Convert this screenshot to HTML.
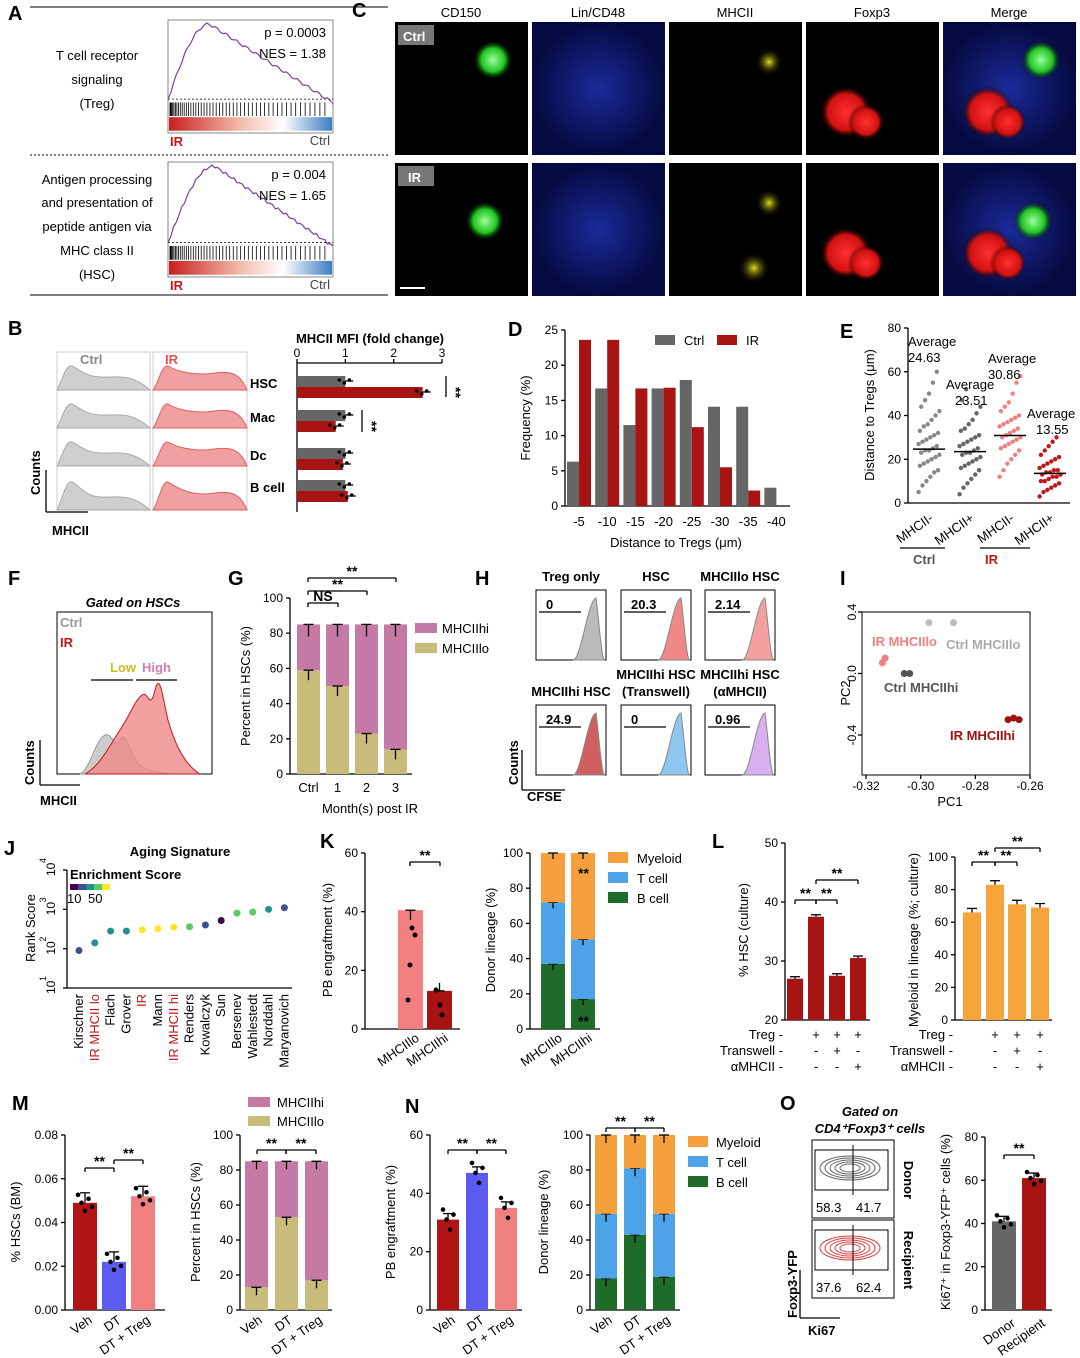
<!DOCTYPE html>
<html><head><meta charset="utf-8"><style>
html,body{margin:0;padding:0;background:#fff;}
svg{display:block;font-family:"Liberation Sans",Arial,sans-serif;}
</style></head><body>
<svg id="fig" width="1080" height="1358" viewBox="0 0 1080 1358" xmlns="http://www.w3.org/2000/svg">
<defs>
<radialGradient id="gGreen"><stop offset="0" stop-color="#9dff9d"/><stop offset="0.6" stop-color="#1fc21f"/><stop offset="1" stop-color="#000" stop-opacity="0"/></radialGradient>
<radialGradient id="gRed"><stop offset="0" stop-color="#ff3030"/><stop offset="0.7" stop-color="#d01010"/><stop offset="1" stop-color="#000" stop-opacity="0"/></radialGradient>
<radialGradient id="gYel"><stop offset="0" stop-color="#e8e020"/><stop offset="1" stop-color="#000" stop-opacity="0"/></radialGradient>
<radialGradient id="gBlue"><stop offset="0" stop-color="#1a2a9a"/><stop offset="1" stop-color="#050a40"/></radialGradient>
<linearGradient id="gBar" x1="0" x2="1"><stop offset="0" stop-color="#c62020"/><stop offset="0.45" stop-color="#f5c0b0"/><stop offset="0.7" stop-color="#fff"/><stop offset="1" stop-color="#3a7dc0"/></linearGradient>
</defs>
<g id="root"></g>
</svg>
<script>
// ---------- data ----------
const bCats=['HSC','Mac','Dc','B cell'];
const bCtrl=[1.0,1.0,1.0,1.0];
const bIR=[2.6,0.8,0.95,1.05];
const dCats=['-5','-10','-15','-20','-25','-30','-35','-40'];
const dCtrl=[6.3,16.7,11.5,16.7,17.9,14.1,14.1,2.6];
const dIR=[23.6,23.6,16.7,16.8,11.2,5.5,2.2,0];
const eGroups=['MHCII-','MHCII+','MHCII-','MHCII+'];
const eAvg=[24.63,23.51,30.86,13.55];
const eVals=[
[5,8,10,12,14,15,17,18,19,20,21,22,23,24,24,25,26,27,28,29,30,31,32,33,35,36,38,40,42,44,47,50,55,60],
[4,7,9,11,13,15,16,17,18,19,20,21,22,23,23,24,25,26,27,28,29,30,31,33,34,36,38,41,44,47,52],
[12,15,18,20,22,24,25,26,27,28,29,30,30,31,32,33,34,35,36,37,38,39,40,42,44,46,50,55,58],
[3,5,6,7,8,9,10,10,11,12,12,13,13,14,14,15,15,16,17,18,19,20,21,22,24,26,28,30]];
const gCats=['Ctrl','1','2','3'];
const gLo=[59,50,23,14];
const gTotal=[85,85,85,85];
const jNames=['Kirschner','IR MHCII lo','Flach','Grover','IR','Mann','IR MHCII hi','Renders','Kowalczyk','Sun','Bersenev','Wahlestedt','Norddahl','Maryanovich'];
const jRank=[90,140,280,280,300,320,350,360,400,520,800,850,1000,1100];
const jEnrich=[18,20,24,26,42,45,40,36,12,8,30,30,28,14];
const kCats=['MHCIIlo','MHCIIhi'];
const kPB=[40.5,13];
const kB=[37,17];const kT=[35,34];const kM=[28,49];
const lHSC=[27,37.5,27.5,30.5];
const lMye=[66,83,71,69];
const mCats=['Veh','DT','DT + Treg'];
const mHSC=[0.049,0.022,0.052];
const mLo=[13,53,17];const mTotal=[85,85,85];
const nPB=[31,47,35];
const nB=[18,43,19];const nT=[37,38,36];const nM=[45,19,45];
const oCats=['Donor','Recipient'];
const oKi=[41,61];
const iPC1=[-0.314,-0.313,-0.297,-0.288,-0.306,-0.304,-0.268,-0.266,-0.264];
const iPC2=[0.07,0.10,0.33,0.33,0.0,0.0,-0.30,-0.29,-0.30];
const iCol=['#f08080','#f08080','#bbb','#bbb','#555','#555','#a01010','#a01010','#a01010'];

// ---------- helpers ----------
const NS='http://www.w3.org/2000/svg';
const root=document.getElementById('root');
function mk(tag,attrs){const e=document.createElementNS(NS,tag);for(const k in attrs)e.setAttribute(k,attrs[k]);root.appendChild(e);return e;}
function T(x,y,s,attrs,name){const e=mk('text',Object.assign({x:x,y:y,'font-size':13},attrs||{}));e.textContent=s;


return e;}
function R(x,y,w,h,fill,name,extra){const e=mk('rect',Object.assign({x:x,y:y,width:Math.max(0,w),height:Math.max(0,h),fill:fill},extra||{}));


return e;}
function L(x1,y1,x2,y2,name,extra){const e=mk('line',Object.assign({x1:x1,y1:y1,x2:x2,y2:y2,stroke:'#000','stroke-width':1.3},extra||{}));


return e;}
function C(cx,cy,r,fill,name,extra){const e=mk('circle',Object.assign({cx:cx,cy:cy,r:r,fill:fill},extra||{}));


return e;}
function P(d,name,extra){const e=mk('path',Object.assign({d:d},extra||{}));


return e;}
const lin=(d0,d1,r0,r1)=>v=>r0+(v-d0)/(d1-d0)*(r1-r0);
function yAxis(x,sc,ticks,fmt,name){L(x,sc(ticks[0]),x,sc(ticks[ticks.length-1]),name+'-line');
ticks.forEach(t=>{L(x-4,sc(t),x,sc(t),name+'-tick');T(x-7,sc(t)+4,fmt?fmt(t):String(t),{'text-anchor':'end','font-size':12},name+'-label');});}
function ytitle(x,y,s,name){T(x,y,s,{'text-anchor':'middle',transform:'rotate(-90 '+x+' '+y+')'},name);}
function errbar(x,y1,y2,name){L(x,y1,x,y2,name);L(x-5,y1,x+5,y1,name);}
function sig(x1,x2,y,s,name){L(x1,y,x2,y,name+'-line');L(x1,y,x1,y+4,name+'-line');L(x2,y,x2,y+4,name+'-line');T((x1+x2)/2,y-2,s,{'text-anchor':'middle','font-size':14,'font-weight':'bold'},name);}
function rotLabel(x,y,s,name,col){T(x,y,s,{'text-anchor':'end',transform:'rotate(-35 '+x+' '+y+')',fill:col||'#000'},name);}

// ---------- panel letters ----------
[['A',8,20],['C',352,17],['B',8,335],['D',508,336],['E',840,338],['F',8,585],['G',228,585],['H',475,585],['I',840,585],['J',4,855],['K',320,848],['L',712,848],['M',12,1110],['N',405,1113],['O',780,1110]].forEach(p=>{T(p[1],p[2],p[0],{'font-size':20,'font-weight':'bold'},'panel-label-'+p[0]);});

// ---------- Panel A ----------
L(30,7,388,7,'a-top-rule',{'stroke-width':1});
L(30,155,388,155,'a-mid-rule',{'stroke-dasharray':'2,2','stroke-width':1});
L(30,295,388,295,'a-bottom-rule',{'stroke-width':1});
[['T cell receptor',60],['signaling',84],['(Treg)',108]].forEach(a=>T(97,a[1],a[0],{'text-anchor':'middle'},'a-pathway-1'));
[['Antigen processing',184],['and presentation of',207],['peptide antigen via',231],['MHC class II',255],['(HSC)',279]].forEach(a=>T(97,a[1],a[0],{'text-anchor':'middle'},'a-pathway-2'));
function gsea(y0,h,pk,pv,nes,seed){
 R(168,y0,165,h,'none','gsea-frame',{stroke:'#888','stroke-width':1});
 const top=y0+4,base=y0+h*0.7;
 L(168,base,333,base,'gsea-zero',{'stroke-dasharray':'2,2','stroke-width':0.8});
 let d='M168 '+base;
 for(let i=0;i<=60;i++){const x=168+i*2.75;const t=i/60;let v=t<pk?Math.sin(t/pk*Math.PI/2):1-(t-pk)/(1-pk)*1.05;v=Math.max(-0.1,v);d+=' L'+x.toFixed(1)+' '+(base-(base-top)*v+Math.sin(i*seed)*1.5).toFixed(1);}
 P(d,'gsea-curve',{fill:'none',stroke:'#7a3fa0','stroke-width':1.2});
 R(169,y0+h*0.73,163,h*0.12,'#fff','gsea-hits');
 for(let i=0;i<50;i++){const x=170+Math.pow(i/50,1.6)*160;L(x,y0+h*0.73,x,y0+h*0.85,'gsea-hit',{'stroke-width':0.8});}
 R(169,y0+h*0.86,163,h*0.12,'url(#gBar)','gsea-rank-bar');
 T(170,y0+h+13,'IR',{fill:'#c01818','font-weight':'bold'},'gsea-ir');
 T(330,y0+h+12,'Ctrl',{'text-anchor':'end',fill:'#444'},'gsea-ctrl');
 T(326,y0+17,'p = '+pv,{'text-anchor':'end'},'gsea-p');
 T(326,y0+38,'NES = '+nes,{'text-anchor':'end'},'gsea-nes');
}
gsea(20,113,0.25,'0.0003','1.38',1.7);
gsea(162,115,0.28,'0.004','1.65',2.3);

// ---------- Panel C ----------
['CD150','Lin/CD48','MHCII','Foxp3','Merge'].forEach((s,i)=>T(461+i*137,17,s,{'text-anchor':'middle'},'c-channel-title'));
[22,163].forEach((y,r)=>{for(let i=0;i<5;i++){const x=395+i*137;
 R(x,y,133,133,(i==1||i==4)?'url(#gBlue)':'#000','c-image-'+r+'-'+i);
 const gx=x+(r==0?98:90),gy=y+(r==0?38:58);
 if(i==0||i==4)C(gx,gy,20,'url(#gGreen)','c-cd150-blob');
 if(i==2){C(x+100,y+40,14,'url(#gYel)','c-mhcii-blob');if(r==1)C(x+85,y+105,16,'url(#gYel)','c-mhcii-blob');}
 if(i==3||i==4){C(x+40+(i==4?5:0),y+90,26,'url(#gRed)','c-foxp3-blob');C(x+60+(i==4?5:0),y+100,18,'url(#gRed)','c-foxp3-blob');}
}});
R(398,25,36,20,'#777','c-tag');R(398,166,36,20,'#777','c-tag');
T(403,41,'Ctrl',{fill:'#fff','font-weight':'bold'},'c-tag-ctrl');T(408,182,'IR',{fill:'#fff','font-weight':'bold'},'c-tag-ir');
R(400,287,25,2,'#fff','c-scale-bar');

// ---------- Panel B ----------
T(80,364,'Ctrl',{fill:'#888','font-weight':'bold'},'b-ctrl');T(165,364,'IR',{fill:'#e05050','font-weight':'bold'},'b-ir');
R(57,352,93,158,'none','b-box-ctrl',{stroke:'#ccc'});R(153,352,94,158,'none','b-box-ir',{stroke:'#ccc'});
[352,390,428,468].forEach((y,r)=>{const h=r==3?42:38;
 P('M57 '+(y+h)+' C62 '+(y+h-10)+' 66 '+(y+12)+' 72 '+(y+14)+' C80 '+(y+18)+' 85 '+(y+h-14)+' 100 '+(y+h-13)+' C115 '+(y+h-12)+' 130 '+(y+h-18)+' 150 '+(y+h)+'Z','b-hist-ctrl',{fill:'#cfcfcf',stroke:'#aaa'});
 P('M153 '+(y+h)+' C158 '+(y+h-6)+' 162 '+(y+12)+' 168 '+(y+14)+' C175 '+(y+18)+' 185 '+(y+h-16)+' 205 '+(y+h-16)+' C225 '+(y+h-18)+' 238 '+(y+h-22)+' 247 '+(y+h)+'Z','b-hist-ir',{fill:'#f0a0a0',stroke:'#e06060'});
});
L(46,512,46,470,'b-y-arrow');L(46,512,88,512,'b-x-arrow');
T(40,495,'Counts',{transform:'rotate(-90 40 495)','font-weight':'bold'},'b-counts');T(52,535,'MHCII',{'font-weight':'bold'},'b-mhcii');
const bx=lin(0,3,297,442);
T(370,343,'MHCII MFI (fold change)',{'text-anchor':'middle','font-weight':'bold'},'b-axis-title');
L(297,363,442,363,'b-x-axis');[0,1,2,3].forEach(t=>{L(bx(t),363,bx(t),359,'b-x-tick');T(bx(t),357,String(t),{'text-anchor':'middle','font-size':12},'b-x-label');});
L(297,363,297,512,'b-y-axis');
const bRowY=[376,410,448,480];
bCats.forEach((c,i)=>{const y=bRowY[i];
 T(250,y+12,c,{'font-weight':'bold'},'b-cat-label');
 R(297,y,bx(bCtrl[i])-297,11,'#666','b-bar-ctrl');
 R(297,y+11,bx(bIR[i])-297,11,'#a81414','b-bar-ir');
 L(bx(bCtrl[i]),y+5,bx(bCtrl[i])+8,y+5,'b-err');L(bx(bIR[i]),y+16,bx(bIR[i])+8,y+16,'b-err');
 for(let k=0;k<3;k++){C(bx(bCtrl[i])-6+k*5,y+4+(k%2)*3,1.8,'#000','b-dot');C(bx(bIR[i])-6+k*5,y+15+(k%2)*3,1.8,'#000','b-dot');}
});
L(446,376,446,397,'b-sig1');T(451,387,'**',{transform:'rotate(90 451 387)','font-weight':'bold','font-size':14},'b-sig1-text');
L(362,410,362,432,'b-sig2');T(367,421,'**',{transform:'rotate(90 367 421)','font-weight':'bold','font-size':14},'b-sig2-text');

// ---------- Panel D ----------
const dy=lin(0,25,506,330);
yAxis(565,dy,[0,5,10,15,20,25],null,'d-y');
L(565,506,790,506,'d-x-axis');
ytitle(530,418,'Frequency (%)','d-y-title');
dCats.forEach((c,i)=>{const cx=579+i*28.2;
 R(cx-12,dy(dCtrl[i]),12,506-dy(dCtrl[i]),'#666','d-bar-ctrl');
 R(cx,dy(dIR[i]),12,506-dy(dIR[i]),'#a81414','d-bar-ir');
 T(cx,526,c,{'text-anchor':'middle'},'d-x-label');});
T(676,547,'Distance to Tregs (μm)',{'text-anchor':'middle'},'d-x-title');
R(655,335,20,10,'#666','d-legend-ctrl');T(684,345,'Ctrl',{},'d-legend-ctrl-text');
R(717,335,20,10,'#a81414','d-legend-ir');T(746,345,'IR',{},'d-legend-ir-text');

// ---------- Panel E ----------
const ey=lin(0,80,503,328);
yAxis(908,ey,[0,20,40,60,80],null,'e-y');
L(908,503,1070,503,'e-x-axis');
ytitle(874,415,'Distance to Tregs (μm)','e-y-title');
const eCol=['#888','#666','#f08080','#c01818'];
const eX=[929,970,1010,1050];
eVals.forEach((g,gi)=>{g.forEach((v,k)=>{const jit=((k*37)%17-8)*1.3;
 C(eX[gi]+jit,ey(v),2.2,eCol[gi],'e-point');});
 L(eX[gi]-16,ey(eAvg[gi]),eX[gi]+16,ey(eAvg[gi]),'e-avg-line',{'stroke-width':1.5});
});
[[908,346,'Average'],[908,362,'24.63'],[988,363,'Average'],[988,379,'30.86'],[946,389,'Average'],[955,405,'23.51'],[1027,418,'Average'],[1036,434,'13.55']].forEach(a=>T(a[0],a[1],a[2],{},'e-avg-label'));
eGroups.forEach((g,i)=>rotLabel(eX[i]+5,520,g,'e-x-label'));
L(900,548,945,548,'e-ctrl-line');L(980,548,1030,548,'e-ir-line');
T(913,564,'Ctrl',{'font-weight':'bold',fill:'#555'},'e-ctrl');T(985,564,'IR',{'font-weight':'bold',fill:'#c01818'},'e-ir');

// ---------- Panel F ----------
T(133,607,'Gated on HSCs',{'text-anchor':'middle','font-weight':'bold','font-style':'italic'},'f-title');
R(57,612,155,162,'none','f-frame',{stroke:'#000'});
T(60,627,'Ctrl',{fill:'#999','font-weight':'bold'},'f-ctrl');T(60,647,'IR',{fill:'#c01818','font-weight':'bold'},'f-ir');
P('M80 774 C90 770 95 740 105 735 C112 732 115 750 120 740 C126 728 132 760 140 765 C150 772 160 772 170 774Z','f-hist-ctrl',{fill:'#ccc',stroke:'#999'});
P('M85 774 C100 766 110 745 120 730 C130 715 135 700 142 695 C148 690 150 712 155 690 C160 670 163 700 168 720 C175 745 185 765 200 774Z','f-hist-ir',{fill:'#f08888','fill-opacity':0.8,stroke:'#c01818'});
L(91,680,133,680,'f-gate-low');L(136,680,177,680,'f-gate-high');
T(110,672,'Low',{fill:'#c8c020','font-weight':'bold'},'f-low');T(142,672,'High',{fill:'#d080b0','font-weight':'bold'},'f-high');
L(40,785,40,740,'f-y-arrow');L(40,785,80,785,'f-x-arrow');
T(34,785,'Counts',{transform:'rotate(-90 34 785)','font-weight':'bold'},'f-counts');T(40,805,'MHCII',{'font-weight':'bold'},'f-mhcii');

// ---------- Panel G ----------
const gy=lin(0,100,774,598);
yAxis(290,gy,[0,20,40,60,80,100],null,'g-y');L(290,774,412,774,'g-x-axis');
ytitle(250,686,'Percent in HSCs (%)','g-y-title');
gCats.forEach((c,i)=>{const x=297+i*29;
 R(x,gy(gLo[i]),23,774-gy(gLo[i]),'#c9bb7a','g-bar-lo');
 R(x,gy(gTotal[i]),23,gy(gLo[i])-gy(gTotal[i]),'#c57aa5','g-bar-hi');
 errbar(x+11.5,gy(gTotal[i]),gy(gTotal[i])+12,'g-err');errbar(x+11.5,gy(gLo[i]),gy(gLo[i])+10,'g-err');
 T(x+11.5,792,c,{'text-anchor':'middle'},'g-x-label');});
T(370,813,'Month(s) post IR',{'text-anchor':'middle'},'g-x-title');
sig(308,338,603,'NS','g-sig-ns');sig(308,367,591,'**','g-sig-2');sig(308,396,578,'**','g-sig-3');
R(415,623,22,10,'#c57aa5','g-legend-hi');T(442,633,'MHCIIhi',{},'g-legend-hi-text');
R(415,643,22,10,'#c9bb7a','g-legend-lo');T(442,653,'MHCIIlo',{},'g-legend-lo-text');

// ---------- Panel H ----------
const hT=[['Treg only','0',536,590,'#bbb'],['HSC','20.3',621,590,'#f08888'],['MHCIIlo HSC','2.14',705,590,'#f5a0a0'],['MHCIIhi HSC','24.9',536,705,'#d06060'],['MHCIIhi HSC\n(Transwell)','0',621,705,'#8ec8f0'],['MHCIIhi HSC\n(αMHCII)','0.96',705,705,'#d8b0f0']];
hT.forEach(h=>{const x=h[2],y=h[3];const ls=h[0].split('\n');
 ls.forEach((s,k)=>T(x+35,y-9-(ls.length-1-k)*17,s,{'text-anchor':'middle','font-weight':'bold'},'h-title'));
 R(x,y,70,70,'none','h-frame',{stroke:'#000'});
 const p=x+60;P('M'+(p-22)+' '+(y+70)+' C'+(p-14)+' '+(y+64)+' '+(p-8)+' '+(y+10)+' '+p+' '+(y+8)+' C'+(p+3)+' '+(y+30)+' '+(p+5)+' '+(y+64)+' '+(p+8)+' '+(y+70)+'Z','h-hist',{fill:h[4],stroke:'#888'});
 L(x+3,y+22,x+45,y+22,'h-gate');T(x+10,y+19,h[1],{'font-weight':'bold'},'h-value');});
L(522,790,522,750,'h-y-arrow');L(522,790,565,790,'h-x-arrow');
T(518,785,'Counts',{transform:'rotate(-90 518 785)','font-weight':'bold'},'h-counts');T(527,801,'CFSE',{'font-weight':'bold'},'h-cfse');

// ---------- Panel I ----------
const ix=lin(-0.32,-0.26,866,1030);const iy=lin(-0.4,0.4,735,612);
R(862,612,168,163,'none','i-frame',{stroke:'#000'});
[-0.32,-0.30,-0.28,-0.26].forEach(t=>{L(ix(t),775,ix(t),779,'i-x-tick');T(ix(t),790,t.toFixed(2),{'text-anchor':'middle','font-size':12},'i-x-label');});
[0.4,0.0,-0.4].forEach(t=>{L(858,iy(t),862,iy(t),'i-y-tick');T(856,iy(t),t.toFixed(1),{'text-anchor':'middle','font-size':12,transform:'rotate(-90 856 '+iy(t)+')'},'i-y-label');});
T(950,806,'PC1',{'text-anchor':'middle'},'i-x-title');ytitle(850,693,'PC2','i-y-title');
iPC1.forEach((v,i)=>C(ix(v),iy(iPC2[i]),3.5,iCol[i],'i-point'));
T(872,646,'IR MHCIIlo',{fill:'#f08080','font-weight':'bold'},'i-label-ir-lo');T(946,649,'Ctrl MHCIIlo',{fill:'#aaa','font-weight':'bold'},'i-label-ctrl-lo');
T(884,692,'Ctrl MHCIIhi',{fill:'#555','font-weight':'bold'},'i-label-ctrl-hi');T(950,740,'IR MHCIIhi',{fill:'#a01010','font-weight':'bold'},'i-label-ir-hi');

// ---------- Panel J ----------
const jy=v=>lin(1,4,988,870)(Math.log10(v));
T(180,856,'Aging Signature',{'text-anchor':'middle','font-weight':'bold'},'j-title');
L(67,870,67,988,'j-y-axis');L(67,988,292,988,'j-x-axis');
[1,2,3,4].forEach(p=>{const yy=jy(Math.pow(10,p));L(63,yy,67,yy,'j-tick');T(55,yy+6,'10',{'text-anchor':'start','font-size':12,transform:'rotate(-90 55 '+(yy+6)+')'},'j-y-label');
 T(46,yy-7,String(p),{'font-size':9,transform:'rotate(-90 46 '+(yy-7)+')'},'j-y-exp');});
ytitle(35,928,'Rank Score','j-y-title');
T(70,879,'Enrichment Score',{'font-weight':'bold'},'j-legend-title');
const vir=['#440154','#3b528b','#21918c','#5ec962','#fde725'];
vir.forEach((c,i)=>R(70+i*8,884,8,6,c,'j-colorbar'));
T(67,903,'10',{},'j-cb-10');T(88,903,'50',{},'j-cb-50');
const jCol=v=>vir[Math.min(4,Math.floor(v/10))];
jRank.forEach((v,i)=>{const x=79+i*15.8;C(x,jy(v),3.5,jCol(jEnrich[i]),'j-point');
 const red=jNames[i].indexOf('IR')==0;
 T(x+4,994,jNames[i],{'text-anchor':'end',transform:'rotate(-90 '+(x+4)+' 994)',fill:red?'#c01818':'#000'},'j-x-label');});

// ---------- Panel K ----------
const ky=lin(0,60,1029,853);
yAxis(365,ky,[0,20,40,60],null,'k-y');L(365,1029,460,1029,'k-x-axis');
ytitle(332,940,'PB engraftment (%)','k-y-title');
const kCol=['#f28080','#a81414'];
kPB.forEach((v,i)=>{const x=398+i*29;R(x,ky(v),25,1029-ky(v),kCol[i],'k-bar');errbar(x+12.5,ky(v),ky(v)+(i==0?10:-8),'k-err');rotLabel(x+22,1040,kCats[i],'k-x-label');});
[[408,1000],[410,965],[412,928],[415,935],[440,1005],[436,990],[442,1015]].forEach(p=>C(p[0],p[1],2.5,'#000','k-dot'));
sig(410,440,862,'**','k-sig');
const ky2=lin(0,100,1029,853);
yAxis(530,ky2,[0,20,40,60,80,100],null,'k2-y');L(530,1029,600,1029,'k2-x-axis');
ytitle(495,940,'Donor lineage (%)','k2-y-title');
kCats.forEach((c,i)=>{const x=541+i*30;let acc=0;
 [[kB[i],'#1e6b2a'],[kT[i],'#4ea3e8'],[kM[i],'#f5a03c']].forEach(s=>{R(x,ky2(acc+s[0]),24,ky2(acc)-ky2(acc+s[0]),s[1],'k2-bar-seg');acc+=s[0];errbar(x+12,ky2(acc),ky2(acc)+6,'k2-err');});
 rotLabel(x+22,1040,c,'k2-x-label');});
T(578,878,'**',{'font-weight':'bold','font-size':14},'k2-sig');T(578,1026,'**',{'font-weight':'bold','font-size':14},'k2-sig');
[['Myeloid','#f5a03c',852],['T cell','#4ea3e8',872],['B cell','#1e6b2a',892]].forEach(l=>{R(608,l[2],20,11,l[1],'k2-legend-swatch');T(637,l[2]+11,l[0],{},'k2-legend-text');});

// ---------- Panel L ----------
const ly=lin(20,50,1020,843);
yAxis(785,ly,[20,30,40,50],null,'l-y');L(785,1020,870,1020,'l-x-axis');
ytitle(748,930,'% HSC (culture)','l-y-title');
const lX=[795,816,837,858];
lHSC.forEach((v,i)=>{R(lX[i]-8,ly(v),16,1020-ly(v),'#a81414','l-bar');errbar(lX[i],ly(v)-2,ly(v),'l-err');});
sig(795,816,900,'**','l-sig');sig(816,837,900,'**','l-sig');sig(816,858,880,'**','l-sig');
const ly2=lin(0,100,1020,857);
yAxis(955,ly2,[0,20,40,60,80,100],null,'l2-y');L(955,1020,1052,1020,'l2-x-axis');
ytitle(918,940,'Myeloid in lineage (%; culture)','l2-y-title');
const l2X=[972,995,1017,1040];
lMye.forEach((v,i)=>{R(l2X[i]-9,ly2(v),18,1020-ly2(v),'#f5a53a','l2-bar');errbar(l2X[i],ly2(v)-4,ly2(v),'l2-err');});
sig(972,995,862,'**','l2-sig');sig(995,1017,862,'**','l2-sig');sig(995,1040,848,'**','l2-sig');
const signs=[['Treg','-','+','+','+'],['Transwell','-','-','+','-'],['αMHCII','-','-','-','+']];
signs.forEach((r,k)=>{const y=1039+k*16;
 T(783,y,r[0]+' -',{'text-anchor':'end'},'l-row-label');for(let j=2;j<5;j++)T(lX[j-1],y,r[j],{'text-anchor':'middle'},'l-sign');
 T(953,y,r[0]+' -',{'text-anchor':'end'},'l2-row-label');for(let j=2;j<5;j++)T(l2X[j-1],y,r[j],{'text-anchor':'middle'},'l2-sign');});

// ---------- Panel M ----------
const my=lin(0,0.08,1310,1135);
yAxis(65,my,[0,0.02,0.04,0.06,0.08],t=>t.toFixed(2),'m-y');L(65,1310,165,1310,'m-x-axis');
ytitle(20,1222,'% HSCs (BM)','m-y-title');
const mCol=['#b01414','#5b5bf0','#f08080'];
mHSC.forEach((v,i)=>{const x=85+i*29;R(x-12,my(v),24,1310-my(v),mCol[i],'m-bar');errbar(x,my(v)-10,my(v),'m-err');rotLabel(x+8,1322,mCats[i],'m-x-label');
 for(let k=0;k<5;k++)C(x-7+k*3.5,my(v)+((k*7)%5-2)*4,2.3,'#000','m-dot');});
sig(85,114,1168,'**','m-sig');sig(114,143,1160,'**','m-sig');
const my2=lin(0,100,1310,1135);
yAxis(240,my2,[0,20,40,60,80,100],null,'m2-y');L(240,1310,332,1310,'m2-x-axis');
ytitle(200,1222,'Percent in HSCs (%)','m2-y-title');
mCats.forEach((c,i)=>{const x=245+i*30;
 R(x,my2(mLo[i]),23,1310-my2(mLo[i]),'#c9bb7a','m2-bar-lo');R(x,my2(mTotal[i]),23,my2(mLo[i])-my2(mTotal[i]),'#c57aa5','m2-bar-hi');
 errbar(x+11.5,my2(mTotal[i]),my2(mTotal[i])+8,'m2-err');errbar(x+11.5,my2(mLo[i]),my2(mLo[i])+8,'m2-err');rotLabel(x+18,1322,c,'m2-x-label');});
sig(257,286,1150,'**','m2-sig');sig(286,316,1150,'**','m2-sig');
R(248,1097,22,10,'#c57aa5','m2-legend-hi');T(277,1107,'MHCIIhi',{},'m2-legend-hi-text');
R(248,1116,22,10,'#c9bb7a','m2-legend-lo');T(277,1126,'MHCIIlo',{},'m2-legend-lo-text');

// ---------- Panel N ----------
const ny=lin(0,60,1310,1135);
yAxis(430,ny,[0,20,40,60],null,'n-y');L(430,1310,522,1310,'n-x-axis');
ytitle(395,1222,'PB engraftment (%)','n-y-title');
nPB.forEach((v,i)=>{const x=448+i*29;R(x-11,ny(v),22,1310-ny(v),mCol[i],'n-bar');errbar(x,ny(v)-6,ny(v),'n-err');rotLabel(x+8,1322,mCats[i],'n-x-label');
 for(let k=0;k<4;k++)C(x-5+k*3.5,ny(v)+((k*7)%5-2)*5,2.3,'#000','n-dot');});
sig(448,477,1150,'**','n-sig');sig(477,506,1150,'**','n-sig');
const ny2=lin(0,100,1310,1135);
yAxis(590,ny2,[0,20,40,60,80,100],null,'n2-y');L(590,1310,680,1310,'n2-x-axis');
ytitle(548,1222,'Donor lineage (%)','n2-y-title');
mCats.forEach((c,i)=>{const x=595+i*29;let acc=0;
 [[nB[i],'#1e6b2a'],[nT[i],'#4ea3e8'],[nM[i],'#f5a03c']].forEach(s=>{R(x,ny2(acc+s[0]),22,ny2(acc)-ny2(acc+s[0]),s[1],'n2-bar-seg');acc+=s[0];errbar(x+11,ny2(acc),ny2(acc)+8,'n2-err');});
 rotLabel(x+18,1322,c,'n2-x-label');});
sig(606,635,1128,'**','n2-sig');sig(635,664,1128,'**','n2-sig');
[['Myeloid','#f5a03c',1136],['T cell','#4ea3e8',1156],['B cell','#1e6b2a',1176]].forEach(l=>{R(688,l[2],20,11,l[1],'n2-legend-swatch');T(716,l[2]+11,l[0],{},'n2-legend-text');});

// ---------- Panel O ----------
T(870,1116,'Gated on',{'text-anchor':'middle','font-weight':'bold','font-style':'italic'},'o-gate-title');
T(870,1133,'CD4⁺Foxp3⁺ cells',{'text-anchor':'middle','font-weight':'bold','font-style':'italic'},'o-gate-title2');
[[1140,'#666','58.3','41.7','Donor'],[1220,'#e04040','37.6','62.4','Recipient']].forEach((o,k)=>{const y=o[0];
 R(812,y,82,78,'none','o-flow-frame',{stroke:'#000'});
 for(let r=0;r<5;r++){const el=mk('ellipse',{cx:850,cy:y+28,rx:30-r*5,ry:12-r*2,fill:'none',stroke:o[1],'stroke-width':1});
 
 }
 L(853,y+5,853,y+55,'o-gate-split',{'stroke-width':1});R(815,y+10,73,40,'none','o-gate',{stroke:'#000','stroke-width':1});
 T(816,y+72,o[2],{},'o-q-left');T(856,y+72,o[3],{},'o-q-right');
 T(904,y+40,o[4],{transform:'rotate(90 904 '+(y+40)+')','text-anchor':'middle','font-weight':'bold'},'o-row-label');});
L(800,1318,800,1270,'o-y-arrow');L(800,1318,840,1318,'o-x-arrow');
T(797,1318,'Foxp3-YFP',{transform:'rotate(-90 797 1318)','font-weight':'bold'},'o-yfp');T(808,1335,'Ki67',{'font-weight':'bold'},'o-ki67');
const oy=lin(0,80,1310,1137);
yAxis(985,oy,[0,20,40,60,80],null,'o-y');L(985,1310,1052,1310,'o-x-axis');
ytitle(950,1222,"Ki67⁺ in Foxp3-YFP⁺ cells (%)",'o-y-title');
const oCol=['#666','#a81414'];
oKi.forEach((v,i)=>{const x=1004+i*30;R(x-12,oy(v),24,1310-oy(v),oCol[i],'o-bar');errbar(x,oy(v)-5,oy(v),'o-err');rotLabel(x+12,1325,oCats[i],'o-x-label');
 for(let k=0;k<5;k++)C(x-7+k*3.5,oy(v)+((k*7)%5-2)*3,2.3,'#000','o-dot');});
sig(1004,1034,1155,'**','o-sig');
</script>
</body></html>
